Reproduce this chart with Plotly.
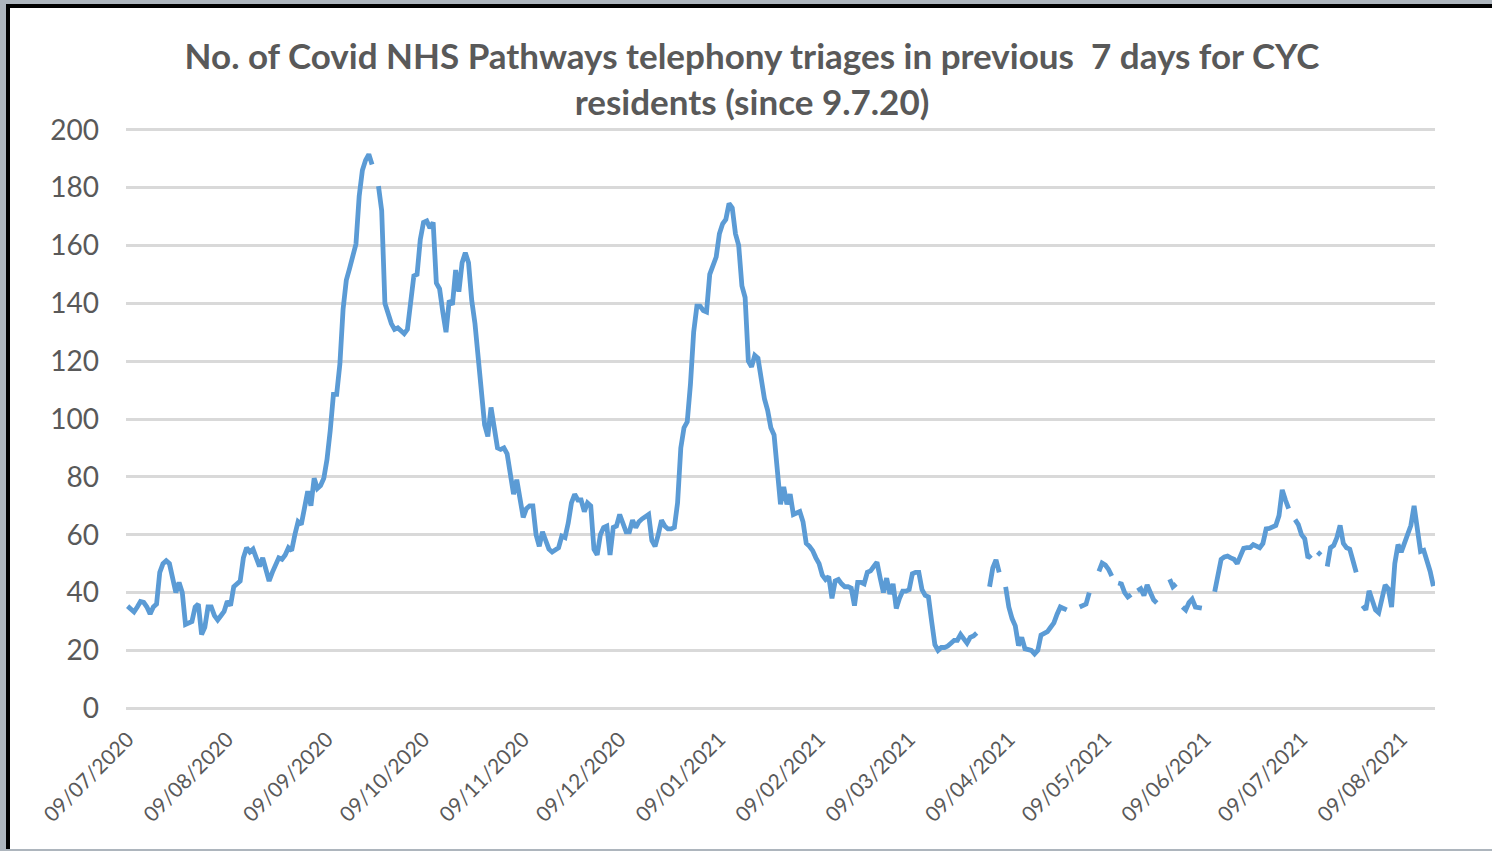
import pandas as pd
import plotly.graph_objects as go

start_date = "2020-07-09"
N = None
triages = [
    35.3, 34.5, 33.3, 35, 36.9, 36.6, 35,
    32.6, 35, 36, 47, 50, 51, 50,
    45, 40, 43.5, 40, 29, 29.5, 30,
    35, 36, 25.5, 28, 35, 35, 32,
    30.5, 32, 33.5, 37, 35.5, 42, 43,
    44, 52, 55.5, 54, 55, 52, 49,
    52, 48, 44, 47, 50, 52, 51.5,
    53, 55.5, 54.5, 60, 64.5, 63.5, 70,
    75, 70, 79.5, 76, 77, 79.5, 86,
    96, 108.5, 108.5, 119, 138, 148, 152,
    156, 160.5, 177, 186, 189.5, 191.5, 188,
    N, 180.5, 172, 140, 136, 133, 131, 131.5,
    130.5, 129.5, 131, 142, 149.5, 150, 162,
    168, 168.5, 166, 168, 147, 145, 137,
    130, 141, 139.5, 151.5, 144, 154, 157.5,
    154, 141, 133, 120, 108.5, 98, 94,
    104, 97, 90, 89.5, 90, 88, 80,
    74, 79, 73.5, 66, 69, 70, 70,
    60, 56, 61, 58, 55, 54, 55,
    55.5, 59.5, 59, 64, 71, 74, 72,
    72, 68, 71, 70, 55, 53,
    60, 62.5, 63, 53, 62.5, 63, 67,
    64.5, 61, 61, 65, 62.5, 64.5, 65.5,
    66.5, 67, 58, 56, 60, 65, 63,
    62, 62, 62.5, 71, 90, 97, 99,
    112, 130, 139, 139, 137.5, 137, 150,
    153, 156, 164, 167.5, 169, 174.5, 173,
    164, 160, 146, 142, 120, 118, 122,
    121, 113, 107, 103, 97, 94.5, 80,
    70.5, 76.5, 70.5, 74, 67, 67.5, 68,
    64.5, 57, 56, 54.5, 52, 50, 46,
    44.5, 45.5, 38, 44, 44.5, 43, 42,
    42, 41.5, 35.5, 43.5, 43.5, 43, 47,
    47.5, 49, 50.5, 45, 40, 45, 39.5,
    43, 34.5, 38, 40.5, 40.5, 41, 46.5,
    47, 47, 41, 39, 38.5, 30, 22,
    20, 21, 21, 21.5, 22.5, 23.5, 23.5,
    25.5, 24, 22.5, 24.5, 25, 26,
    N, N, N,
    42, 48.5, 51.3, 47,
    N,
    42, 35, 31, 28.5, 21.7, 24.5, 20.6, 20.3,
    20, 18.8, 20, 25.3, 25.7, 26.5, 28,
    29.5, 32.5, 35, 34.5, 34,
    N, N, N,
    35, 35.5, 36, 40,
    N, N,
    47.3, 50.2, 49.5, 48, 45.7,
    N,
    43.3, 43, 40, 38.5, 39.3,
    N,
    40.6, 41.3, 39, 42.6, 40, 37.5, 36.4,
    N, N, N,
    44.6, 42, 43,
    N,
    35, 34, 36.5, 37.7, 35, 35, 34.6,
    N, N, N,
    40.3, 47, 51.5, 52.3, 52.6, 52, 51.5, 50, 52.5, 55.3, 55.5, 55.5,
    56.6, 56, 55.5, 57, 62, 62.2, 62.5,
    63.2, 66.6, 75.5, 72, 69,
    N,
    65.2, 63.5, 60, 58.6, 52, 53,
    N,
    54, 53,
    N,
    49, 55.5, 56.3, 59, 63.2, 57, 55.5, 55,
    51, 47,
    N,
    35.5, 34, 40.6, 37, 34, 33, 37.3,
    42.6, 41.3, 35, 50, 56.6, 54, 57,
    60, 63.2, 70, 61, 54.2, 54.6, 51,
    47.3, 42.2,
]

dates = pd.date_range(start_date, periods=len(triages), freq="D")
tick_dates = pd.date_range("2020-07-01", dates[-1], freq="MS") + pd.Timedelta(days=8)
tick_dates = [d for d in tick_dates if dates[0] <= d <= dates[-1]]
y_ticks = [0, 20, 40, 60, 80, 100, 120, 140, 160, 180, 200]

title_text = ("No. of Covid NHS Pathways telephony triages in previous  7 days for CYC"
              "<br>residents (since 9.7.20)")

W, H = 1492, 851
L, R, T, B = 126, 57, 128, 141
pw, ph = W - L - R, H - T - B


def px(xp):
    return (xp - L) / pw


def py(yp):
    return (H - B - yp) / ph


fig = go.Figure()
fig.add_trace(go.Scatter(
    x=dates, y=triages, mode="lines",
    line=dict(color="#5b9bd5", width=4.8),
    connectgaps=False, hoverinfo="x+y", showlegend=False,
))

# frame decoration (gray outer strip, black border, white panel)
fig.add_shape(type="rect", xref="paper", yref="paper", layer="below",
              x0=px(6), x1=px(W + 20), y0=py(849), y1=py(4),
              fillcolor="black", line=dict(width=0))
fig.add_shape(type="rect", xref="paper", yref="paper", layer="below",
              x0=px(10), x1=px(W + 20), y0=py(849), y1=py(8),
              fillcolor="white", line=dict(width=0))

fig.update_layout(
    width=W, height=H,
    margin=dict(l=L, r=R, t=T, b=B),
    paper_bgcolor="#adb5bd",
    plot_bgcolor="rgba(0,0,0,0)",
    title=dict(text=title_text, x=752 / W, xanchor="center", xref="container",
               y=1 - 69 / H, yanchor="middle", yref="container",
               font=dict(family="Lato, sans-serif",
                         size=35, color="#595959", weight="bold")),
    font=dict(family="Lato, sans-serif", color="#595959"),
)
fig.update_xaxes(
    range=[dates[0] - pd.Timedelta(hours=12), dates[-1] + pd.Timedelta(hours=12)],
    tickvals=tick_dates, tickformat="%d/%m/%Y", tickangle=-45,
    tickfont=dict(size=21, color="#595959"),
    showgrid=False, showline=False, zeroline=False, ticks="",
    ticklabelstandoff=12,
)
fig.update_yaxes(
    range=[-0.6, 200.6], tickvals=y_ticks,
    tickfont=dict(size=28, color="#595959"),
    showgrid=True, gridcolor="#d9d9d9", gridwidth=2.5,
    zeroline=False, showline=False, ticks="", ticklabelstandoff=26,
)

fig.write_html("out.html", config={"displayModeBar": False},
               post_script="document.body.style.margin='0';")
